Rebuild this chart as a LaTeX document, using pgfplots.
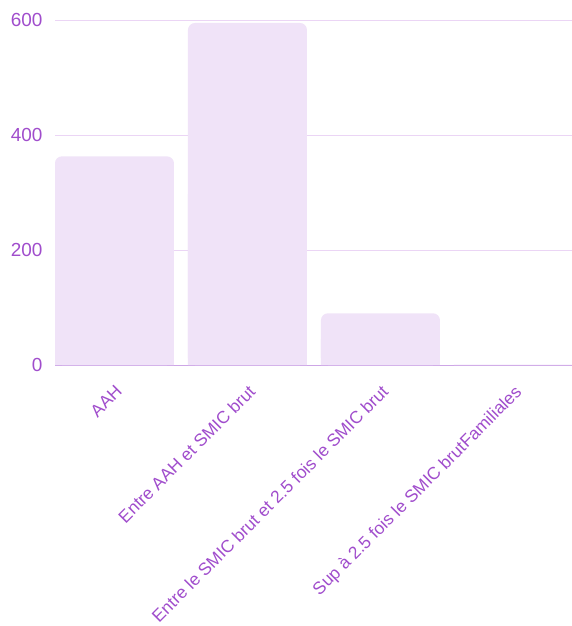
\documentclass[border=0pt]{standalone}
\usepackage{pgfplots}
\pgfplotsset{compat=1.18}
\usepackage{pgfplotstable}
\usepackage{fontspec}
\setmainfont{Liberation Sans}

\definecolor{lbl}{HTML}{A04DCC}
\definecolor{gridc}{HTML}{EBD5F5}
\definecolor{barc}{HTML}{F0E3F8}
\definecolor{basec}{HTML}{CDA6E6}

\pgfplotstableread{
x v
0 363
1 595
2 90
3 1
}\data

\begin{document}
\begin{tikzpicture}
\begin{axis}[
    width=517bp, height=365bp, scale only axis,
    xmin=-0.447, xmax=3.44, ymin=0, ymax=635,
    axis x line*=bottom, axis y line*=left,
    x axis line style={basec, line width=1pt, -},
    y axis line style={draw=none},
    ybar, bar width=0.895, /pgf/bar shift=0pt,
    xtick={0,1,2,3},
    xticklabels={AAH, Entre AAH et SMIC brut, Entre le SMIC brut et 2.5 fois le SMIC brut, Sup à 2.5 fois le SMIC brutFamiliales},
    ytick={0,200,400,600},
    ymajorgrids, major grid style={gridc, line width=0.8pt},
    tick style={draw=none},
    tick label style={text=lbl, font=\fontsize{17.5}{20}\selectfont},
    xticklabel style={xshift=0bp, yshift=-10bp, rotate=45, anchor=north east},
    yticklabel style={font=\fontsize{19}{22}\selectfont, xshift=-9bp},
    /pgf/number format/assume math mode=true,
]
% rounded tops (the near-zero last bar is left flat)
\addplot[fill=barc, draw=none, rounded corners=7bp, skip coords between index={3}{4}] table[x=x, y=v] {\data};
% square bottoms
\addplot[fill=barc, draw=none] table[x=x, y expr=\thisrow{v}/2] {\data};
\end{axis}
\pgfresetboundingbox
\path ([xshift=-55bp]current axis.north west) rectangle ([yshift=-261bp]current axis.south east);
\end{tikzpicture}
\end{document}
